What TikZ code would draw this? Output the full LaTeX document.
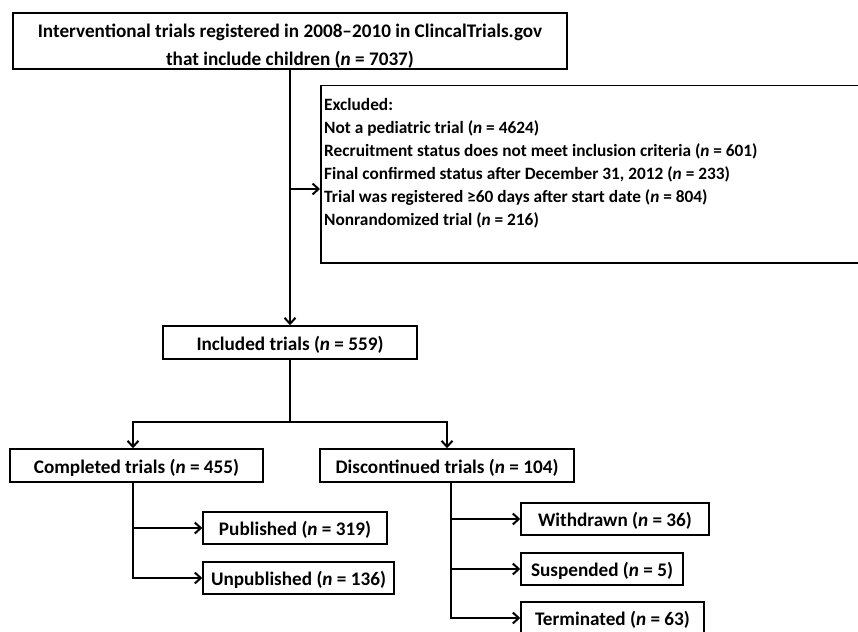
\documentclass[tikz,border=0pt]{standalone}
\usepackage{fontspec}
\setmainfont{Carlito}
\usetikzlibrary{arrows.meta}
\tikzset{
  box/.style={draw, line width=1.5pt, inner sep=0pt, text height=17pt, text depth=2pt,
    font=\fontsize{19.2}{23.5}\selectfont\bfseries},
  flow/.style={-{Straight Barb[length=6pt,width=11pt]}, line width=2pt},
  line/.style={line width=2pt}
}
\newcommand{\nn}[1]{(\textit{n} = #1)}

\begin{document}
\begin{tikzpicture}[x=1pt, y=-1pt]
    \useasboundingbox (0,0) rectangle (858,631);
    \clip (0,0) rectangle (858,631);
    \node[box, minimum width=554pt, minimum height=56pt, align=center, text height=, text depth=] (top) at (290, 41)
      {\rule{0pt}{24pt}Interventional trials registered in 2008--2010 in ClincalTrials.gov\\[4pt] that include children \nn{7037}};
    \node[box, minimum width=560pt, minimum height=177pt, anchor=north west] (excl) at (320, 85) {};
    \node[anchor=north west, inner sep=0pt, align=left, font=\fontsize{17.3}{23}\selectfont\bfseries] (excltxt) at (324, 98)
      {Excluded:\\ Not a pediatric trial \nn{4624}\\ Recruitment status does not meet inclusion criteria \nn{601}\\
       Final confirmed status after December 31, 2012 \nn{233}\\ Trial was registered ≥60 days after start date \nn{804}\\
       Nonrandomized trial \nn{216}};
    \node[box, minimum width=254pt, minimum height=33pt] (incl) at (290, 342.5) {Included trials \nn{559}};
    \node[box, minimum width=253pt, minimum height=33pt] (comp) at (136.5, 465.5) {Completed trials \nn{455}};
    \node[box, minimum width=254pt, minimum height=33pt] (disc) at (447, 465.5) {Discontinued trials \nn{104}};
    \node[box, minimum width=184pt, minimum height=32pt] (pub) at (295, 528) {Published \nn{319}};
    \node[box, minimum width=191pt, minimum height=32pt] (unpub) at (298.5, 578) {Unpublished \nn{136}};
    \node[box, minimum width=188pt, minimum height=32pt] (withd) at (615, 519) {Withdrawn \nn{36}};
    \node[box, minimum width=162pt, minimum height=32pt] (susp) at (602, 569) {Suspended \nn{5}};
    \node[box, minimum width=183pt, minimum height=32pt] (term) at (612.5, 618) {Terminated \nn{63}};
    \coordinate (ex) at (290, 189);
    \coordinate (split) at (290, 422);
    \coordinate (ctrunk) at (133, 482);
    \coordinate (dtrunk) at (451, 482);
    \draw[flow] (top.south) -- (top.south |- incl.north);
    \draw[flow] (ex) -- (ex -| excl.west);
    \draw[line] (incl.south) -- (split);
    \draw[flow] (split) -| (ctrunk |- comp.north);
    \draw[flow] (split) -| (disc.north);
    \draw[flow] (ctrunk) |- (unpub.west);
    \draw[flow] (ctrunk |- pub.west) -- (pub.west);
    \draw[flow] (dtrunk) |- (term.west);
    \draw[flow] (dtrunk |- withd.west) -- (withd.west);
    \draw[flow] (dtrunk |- susp.west) -- (susp.west);
  \end{tikzpicture}
\end{document}
